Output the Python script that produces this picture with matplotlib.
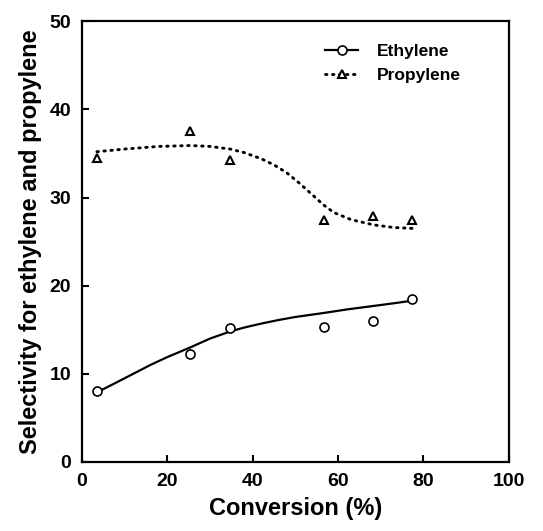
import matplotlib.pyplot as plt

plt.rcParams['font.family'] = ['Liberation Sans', 'DejaVu Sans']
plt.rcParams['font.weight'] = 'bold'

# measured points
conversion = [3.5, 25.4, 34.7, 56.6, 68.3, 77.4]
ethylene = [8.0, 12.2, 15.2, 15.3, 16.0, 18.5]
propylene = [34.5, 37.6, 34.3, 27.4, 27.9, 27.5]

# fitted curves
eth_fit_x = [3.5, 8, 12, 16, 20, 25.4, 30, 34.7, 38, 42, 46, 50, 56.6, 62, 68.3, 73, 77.4]
eth_fit_y = [7.9, 9.0, 10.0, 11.0, 11.9, 13.0, 14.0, 14.8, 15.25, 15.7, 16.1, 16.45, 16.9, 17.3, 17.7, 18.0, 18.3]
pro_fit_x = [3.5, 10, 18, 25.4, 30, 34.7, 38, 42, 45, 48, 51, 54, 56.5, 59, 63, 68.3, 73, 77.4]
pro_fit_y = [35.2, 35.5, 35.8, 35.9, 35.8, 35.5, 35.1, 34.4, 33.7, 32.8, 31.6, 30.3, 29.2, 28.3, 27.5, 26.9, 26.6, 26.5]

fig = plt.figure(figsize=(5.43, 5.31), dpi=100)
ax = fig.add_axes([0.151, 0.130, 0.786, 0.830])

dots = (0, (0.5, 1.9))
ax.plot(eth_fit_x, eth_fit_y, color='black', lw=1.6)
ax.plot(pro_fit_x, pro_fit_y, color='black', lw=2.1, linestyle=dots,
        dash_capstyle='round')
ax.plot(conversion, ethylene, 'o', mfc='white', mec='black', ms=6.5, mew=1.2)
ax.plot(conversion, propylene, '^', mfc='white', mec='black', ms=5.5, mew=1.5)

# legend handles
h1, = ax.plot([], [], color='black', lw=1.6, marker='o', mfc='white', mec='black',
              ms=6.5, mew=1.2, label='Ethylene')
h2, = ax.plot([], [], color='black', lw=2.1, linestyle=dots,
              dash_capstyle='round', marker='^', mfc='white', mec='black',
              ms=5.5, mew=1.5, label='Propylene')
ax.legend(handles=[h1, h2], loc='upper right', bbox_to_anchor=(0.925, 0.985),
          frameon=False, fontsize=12.5, handlelength=1.9, handletextpad=1.1,
          labelspacing=0.55)

ax.set_xlim(0, 100)
ax.set_ylim(0, 50)
ax.set_xticks([0, 20, 40, 60, 80, 100])
ax.set_yticks([0, 10, 20, 30, 40, 50])
ax.tick_params(direction='in', length=5, width=1.5, labelsize=14, pad=8)
for s in ax.spines.values():
    s.set_linewidth(1.6)

ax.set_xlabel('Conversion (%)', fontsize=17, fontweight='bold', labelpad=5)
ax.set_ylabel('Selectivity for ethylene and propylene', fontsize=17,
              fontweight='bold', labelpad=5)

fig.savefig('out.png', dpi=100)
